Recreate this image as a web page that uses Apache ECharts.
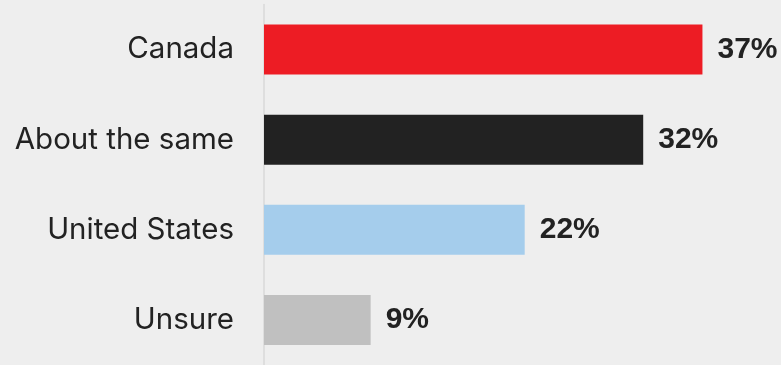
<!DOCTYPE html>
<html>
<head>
<meta charset="utf-8">
<script src="https://cdn.jsdelivr.net/npm/echarts@6/dist/echarts.min.js"></script>
<style>
html,body{margin:0;padding:0;background:#eeeeee;}
#chart{width:781px;height:365px;}
</style>
</head>
<body>
<div id="chart"></div>
<script>
const categories = ["Canada", "About the same", "United States", "Unsure"];
const values = [37, 32, 22, 9];
const colors = ["#ed1c24", "#222222", "#a5cdec", "#c0c0c0"];

const chart = echarts.init(document.getElementById('chart'), null, {renderer: 'canvas'});
chart.setOption({
  backgroundColor: '#eeeeee',
  animation: false,
  grid: {left: 264, top: 4.5, width: 474, height: 366, containLabel: false},
  xAxis: {
    type: 'value', min: 0, max: 40, show: false
  },
  yAxis: {
    type: 'category', data: categories, inverse: true,
    axisLine: {show: true, lineStyle: {color: '#d9d9d9', width: 1.5}},
    axisTick: {show: false},
    axisLabel: {
      margin: 30, color: '#222222', fontSize: 29.5,
      fontFamily: 'Inter'
    }
  },
  series: [{
    type: 'bar',
    barWidth: 50,
    data: values.map((v, i) => ({value: v, itemStyle: {color: colors[i]}})),
    label: {
      show: true, position: 'right', distance: 15,
      formatter: p => p.value + '%',
      color: '#222222', fontSize: 30, fontWeight: 'bold',
      fontFamily: 'Liberation Sans'
    }
  }]
});
</script>
</body>
</html>
